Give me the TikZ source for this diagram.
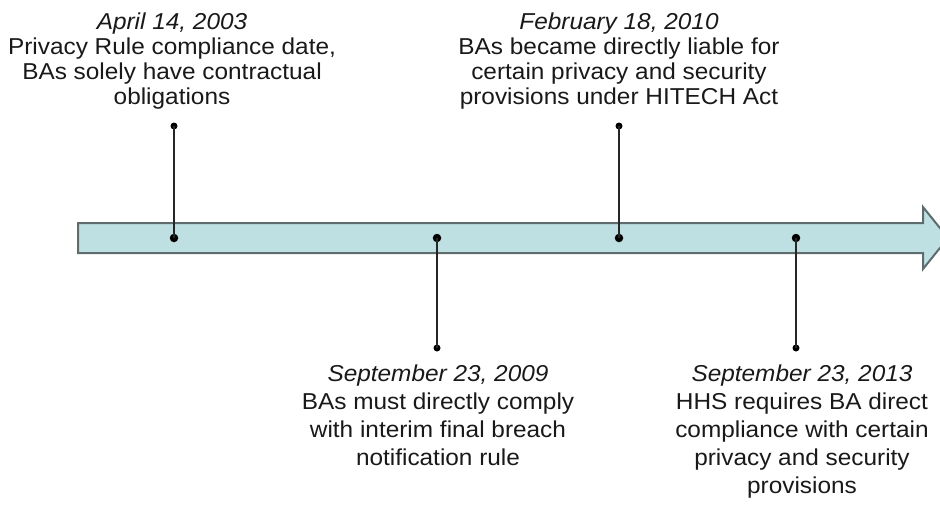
\documentclass[tikz,border=0pt]{standalone}
\usepackage{fontspec}
\setmainfont[FakeStretch=1.06]{Liberation Sans}
\begin{document}
\begin{tikzpicture}[x=1pt,y=-1pt,
  lbl/.style={align=center,inner sep=0pt,font=\fontsize{23}{25}\selectfont,text=black!90},
  lblb/.style={lbl,font=\fontsize{23}{28}\selectfont},
  stem/.style={draw=black!85,line width=1.6pt},
  dotmark/.style={circle,fill=black,inner sep=0pt,minimum size=8.5pt}]
\useasboundingbox (0,0) rectangle (940,504);
\begin{scope}
\clip (0,0) rectangle (940,504);
\draw[line width=2pt,draw={rgb,255:red,95;green,108;blue,110},fill={rgb,255:red,190;green,224;blue,226}]
  (78,223) -- (923,223) -- (923,207) -- (948,238) -- (923,269) -- (923,253) -- (78,253) -- cycle;
\end{scope}
% dots on the timeline
\node[dotmark] (d1) at (174,238) {};
\node[dotmark] (d2) at (437,238) {};
\node[dotmark] (d3) at (619,238) {};
\node[dotmark] (d4) at (796,238) {};
% end dots
\node[dotmark,minimum size=7pt] (e1) at (174,126) {};
\node[dotmark,minimum size=7pt] (e2) at (437,348) {};
\node[dotmark,minimum size=7pt] (e3) at (619,126) {};
\node[dotmark,minimum size=7pt] (e4) at (796,348) {};
\draw[stem] (d1.center) -- (e1.center);
\draw[stem] (d2.center) -- (e2.center);
\draw[stem] (d3.center) -- (e3.center);
\draw[stem] (d4.center) -- (e4.center);
% labels
\node[lbl,anchor=north] (t1) at (172,13) {\textit{April 14, 2003}\\Privacy Rule compliance date,\\BAs solely have contractual\\obligations};
\node[lbl,anchor=north] (t3) at (619,13) {\textit{February 18, 2010}\\BAs became directly liable for\\certain privacy and security\\provisions under HITECH Act};
\node[lblb,anchor=north] (t2) at (438,365) {\textit{September 23, 2009}\\BAs must directly comply\\with interim final breach\\notification rule};
\node[lblb,anchor=north] (t4) at (802,365) {\textit{September 23, 2013}\\HHS requires BA direct\\compliance with certain\\privacy and security\\provisions};
\end{tikzpicture}
\end{document}
